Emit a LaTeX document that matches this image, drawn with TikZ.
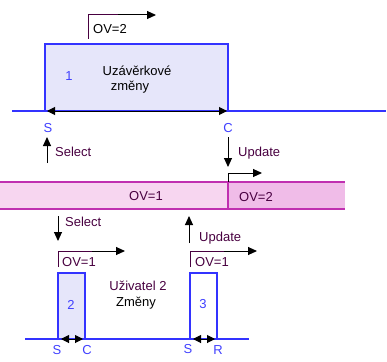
\documentclass[tikz,border=0pt]{standalone}
\usepackage{fontspec}
\setmainfont{Liberation Sans}
\usetikzlibrary{arrows.meta}
\definecolor{lineblue}{RGB}{51,51,255}
\definecolor{txtblue}{RGB}{64,64,255}
\definecolor{lav}{RGB}{230,230,250}
\definecolor{bandL}{RGB}{247,214,240}
\definecolor{bandR}{RGB}{240,188,232}
\definecolor{bandB}{RGB}{192,48,176}
\definecolor{dpurp}{RGB}{72,0,64}
\begin{document}
\begin{tikzpicture}[x=1pt,y=-1pt,
  lbl/.style={font=\fontsize{13}{15}\selectfont, inner sep=0pt},
  blbl/.style={lbl, text=txtblue},
  plbl/.style={lbl, text=dpurp},
  box/.style={draw=lineblue, line width=2.5pt, anchor=north west, inner sep=0pt, outer sep=0pt},
  bline/.style={draw=lineblue, line width=2.5pt},
  darr/.style={black, line width=1pt, {Triangle[length=8pt,width=8pt]}-{Triangle[length=8pt,width=8pt]}},
  sarr/.style={black, line width=1pt, -{Triangle[length=9pt,width=8pt]}},
  ovmark/.style={dpurp, line width=1pt},
  bandedge/.style={draw=bandB, line width=2pt}]
\useasboundingbox (0,0) rectangle (387,361);

% top box
\node[box, fill=lav, minimum width=183pt, minimum height=67pt] (b1) at (45,44) {};
\draw[bline] (12,111) -- (386,111);
\coordinate (s1) at (47,111);
\coordinate (c1) at (227,111);
\draw[darr] (s1) -- (c1);
\node[blbl] (n1) at (69,76) {1};
\node[lbl] (t1) at (137,71) {Uzávěrkové};
\node[lbl] (t2) at (130,87) {změny};
\node[blbl] (S1) at (48,128) {S};
\node[blbl] (C1) at (228,128) {C};

% OV=2 marker top
\coordinate (m1a) at (88,39);
\coordinate (m1b) at (88,15);
\coordinate (m1c) at (118,15);
\coordinate (m1d) at (156,15);
\draw[ovmark] (m1a) -- (m1b) -- (m1c);
\draw[sarr] (m1c) -- (m1d);
\node[lbl, anchor=west] (ov2t) at (93,29) {OV=2};

% select / update upper
\coordinate (sa1) at (47,163);
\coordinate (sa2) at (47,137);
\draw[sarr] (sa1) -- (sa2);
\node[plbl, anchor=west] (sel1) at (55,152) {Select};
\coordinate (ua1) at (228,137);
\coordinate (ua2) at (228,167);
\draw[sarr] (ua1) -- (ua2);
\node[plbl, anchor=west] (upd1) at (238,153) {Update};

% band
\node[fill=bandL, anchor=north west, minimum width=228pt, minimum height=27pt, inner sep=0pt, outer sep=0pt] (bl) at (0,182) {};
\node[fill=bandR, anchor=north west, minimum width=117pt, minimum height=27pt, inner sep=0pt, outer sep=0pt] (br) at (228,182) {};
\draw[bandedge] (bl.north west) -- (br.north east);
\draw[bandedge] (bl.south west) -- (br.south east);
\draw[bandedge] (bl.north east) -- (bl.south east);
\node[plbl] (ov1b) at (146,196) {OV=1};
\node[plbl] (ov2b) at (256,197) {OV=2};
\coordinate (m2a) at (228,182);
\coordinate (m2b) at (228,173);
\coordinate (m2c) at (262,173);
\draw[sarr] (m2a) -- (m2b) -- (m2c);

% select / update lower
\coordinate (sb1) at (58,216);
\coordinate (sb2) at (58,241);
\draw[sarr] (sb1) -- (sb2);
\node[plbl, anchor=west] (sel2) at (65,222) {Select};
\coordinate (ub1) at (189,243);
\coordinate (ub2) at (189,216);
\draw[sarr] (ub1) -- (ub2);
\node[plbl, anchor=west] (upd2) at (199,238) {Update};

% lower markers
\coordinate (m3a) at (58,267);
\coordinate (m3b) at (58,251);
\coordinate (m3c) at (92,251);
\coordinate (m3d) at (125,251);
\draw[ovmark] (m3a) -- (m3b) -- (m3c);
\draw[sarr] (m3c) -- (m3d);
\node[plbl, anchor=west] (ov1c) at (62,262) {OV=1};
\coordinate (m4a) at (190,267);
\coordinate (m4b) at (190,251);
\coordinate (m4c) at (224,251);
\coordinate (m4d) at (257,251);
\draw[ovmark] (m4a) -- (m4b) -- (m4c);
\draw[sarr] (m4c) -- (m4d);
\node[plbl, anchor=west] (ov1d) at (195,262) {OV=1};

% lower boxes
\node[box, fill=lav, minimum width=27pt, minimum height=66pt] (b2) at (58,273) {};
\node[box, fill=white, minimum width=27pt, minimum height=66pt] (b3) at (190,273) {};
\draw[bline] (25,339) -- (249,339);
\coordinate (s2) at (61,339);
\coordinate (c2) at (83,339);
\draw[darr] (s2) -- (c2);
\coordinate (s3) at (193,339);
\coordinate (r3) at (215,339);
\draw[darr] (s3) -- (r3);
\node[blbl] (n2) at (71,305) {2};
\node[blbl] (n3) at (203,304) {3};
\node[plbl] (u2) at (138,286) {Uživatel 2};
\node[lbl] (z2) at (136,303) {Změny};
\node[blbl] (S2) at (57,350) {S};
\node[blbl] (C2) at (87,350) {C};
\node[blbl] (S3) at (188,349) {S};
\node[blbl] (R3) at (218,350) {R};
\end{tikzpicture}
\end{document}
